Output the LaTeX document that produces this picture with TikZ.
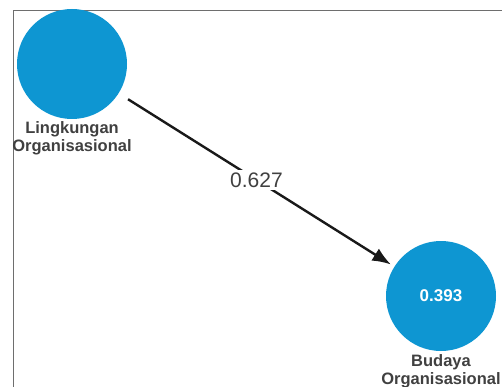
\documentclass[tikz,border=0pt]{standalone}
\usepackage{fontspec}
\setmainfont{Liberation Sans}
\usetikzlibrary{arrows.meta,positioning}
\definecolor{latentblue}{RGB}{14,150,210}
\definecolor{labelgrey}{RGB}{64,64,64}
\definecolor{framegrey}{RGB}{110,110,110}

\begin{document}
\begin{tikzpicture}[
  x=1pt, y=-1pt,
  latent/.style={
    circle,
    fill=latentblue,
    minimum size=110pt,
    inner sep=0pt,
    text=white,
    font=\fontsize{17}{17}\selectfont\bfseries
  },
  caption/.style={
    align=center,
    text=labelgrey,
    inner sep=0pt,
    font=\fontsize{16.5}{18.5}\selectfont\bfseries
  },
  path/.style={-{Latex[length=6.5mm,width=5mm]},line width=2.4pt,draw=black!90}
]
\useasboundingbox (0,0) rectangle (502,387);
\draw[framegrey,line width=0.8pt] (13,10) rectangle (520,400);
\node[latent] (lo) at (72,64) {};
\node[latent] (bo) at (441,296) {0.393};
\node[caption, below=2pt of lo] (lolab) {Lingkungan\\Organisasional};
\node[caption, below=3pt of bo] (bolab) {Budaya\\Organisasional};
\draw[path, shorten <=11pt, shorten >=4pt] (lo) -- node[midway, fill=white, inner sep=3pt, text=labelgrey,
  font=\fontsize{21}{21}\selectfont] (coef) {0.627} (bo);
\end{tikzpicture}
\end{document}
